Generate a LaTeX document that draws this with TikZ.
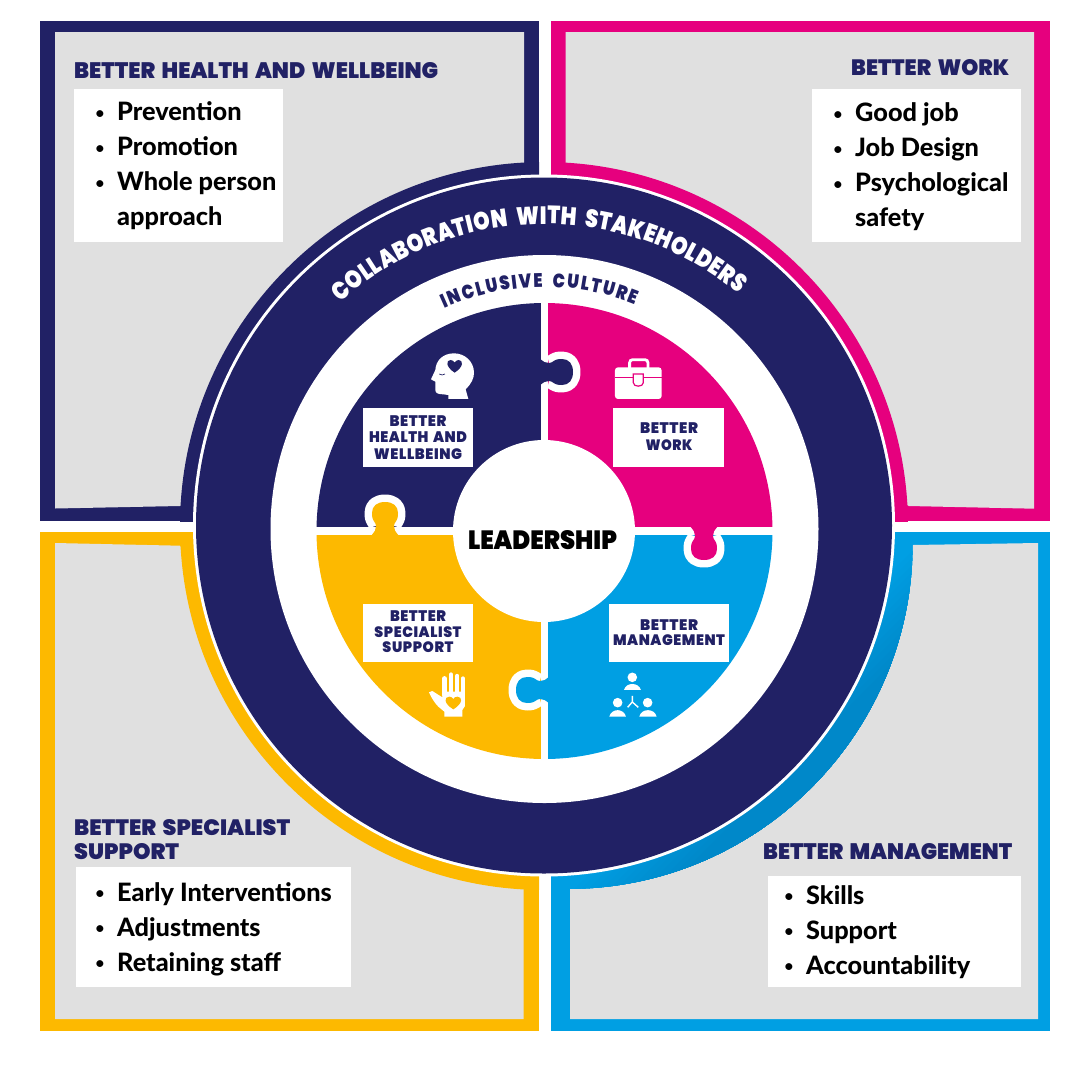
\documentclass[tikz,border=0pt]{standalone}
\usepackage{fontspec}
\usepackage{graphicx}
\usetikzlibrary{decorations.text}
\setmainfont{Lato}
\newfontfamily\hfont{Poppins Black}[WordSpace=1.7]
\newfontfamily\afont{Poppins Black}[FakeStretch=0.84,WordSpace=2.2]
\newfontfamily\lfont{Poppins Black}[LetterSpace=4,WordSpace=1.5]
\newfontfamily\bfont{Lato Heavy}
\definecolor{navy}{HTML}{212165}
\definecolor{pink}{HTML}{E6007E}
\definecolor{amber}{HTML}{FDB900}
\definecolor{sky}{HTML}{009FE3}
\definecolor{deepsky}{HTML}{0088C9}
\definecolor{panel}{HTML}{E0E0E0}
\newcommand\fitted[4]{\resizebox{#1pt}{#2pt}{#3#4}}
\newcommand\heading[6]{\node[headtext] (#1) at (#2,-#3) {\fitted{#4}{#5}{\hfont}{#6}};}
\newcommand\boxline[6]{\node[boxtext] (#1) at (#2,-#3) {\fitted{#4}{#5}{\lfont}{#6}};}
\newcommand\listitem[4]{%
  \node[bullettext] (#1b) at (#2-17,-#3+2.5) {•};
  \node[bodytext] (#1) at (#2,-#3) {#4};}
\newcommand\puzzletab[4]{%
  \begin{scope}[shift={(#1,-#2)},rotate=#3]
    \draw[white,line width=15pt,line join=round]
      (1,-9) .. controls (6,-9) and (4,-13) .. (14,-13)
      .. controls (21,-13) and (25,-8) .. (25,0)
      .. controls (25,8) and (21,13) .. (14,13)
      .. controls (4,13) and (6,9) .. (1,9);
    \fill[#4] (-9,-14) .. controls (-4,-10) and (-3,-9) .. (1,-9) .. controls (6,-9) and (4,-13) .. (14,-13)
      .. controls (21,-13) and (25,-8) .. (25,0)
      .. controls (25,8) and (21,13) .. (14,13)
      .. controls (4,13) and (6,9) .. (1,9) .. controls (-3,9) and (-4,10) .. (-9,14) -- cycle;
  \end{scope}}
\tikzset{
  headtext/.style={anchor=base west,inner sep=0pt,text=navy},
  boxtext/.style={anchor=base,inner sep=0pt,text=navy},
  bodytext/.style={anchor=base west,inner sep=0pt,text=black,font=\bfont\fontsize{25.3}{25.3}\selectfont},
  bullettext/.style={anchor=base,inner sep=0pt,text=black,font=\bfont\fontsize{15}{15}\selectfont},
  whitebox/.style={fill=white,draw=none},
  zoomed/.style={x=0.3333pt,y=-0.3333pt},
}
\begin{document}
\begin{tikzpicture}[x=1pt,y=1pt]
\useasboundingbox (0,0) rectangle (1080,-1080);
\fill[white] (0,0) rectangle (1080,-1080);

% --- outer frames
\fill[navy] (40,-21) rectangle (539,-521);
\fill[panel] (55,-32) -- (524,-32) -- (524,-300) -- (180,-506) -- (55,-508.5) -- cycle;
\begin{scope}
  \clip (40,-21) rectangle (539,-521);
  \fill[navy] (544,-526) circle[radius=364];
\end{scope}

\fill[pink] (551,-21) rectangle (1050,-521);
\fill[panel] (565.5,-32) -- (1034,-32) -- (1034,-508.7) -- (908.7,-506) -- (600,-300) -- (565.5,-300) -- cycle;
\begin{scope}
  \clip (551,-21) rectangle (1050,-521);
  \fill[pink] (544,-526) circle[radius=364];
\end{scope}

\fill[amber] (40,-532) rectangle (539,-1031);
\fill[panel] (55,-543) -- (180,-545.7) -- (320,-780) -- (523.5,-800) -- (523.5,-1019) -- (55,-1019) -- cycle;
\begin{scope}
  \clip (40,-532) rectangle (539,-1031);
  \fill[amber] (544,-526) circle[radius=364];
\end{scope}

\fill[sky] (551,-532) rectangle (1050,-1031);
\fill[panel] (912.7,-545) -- (1038,-543) -- (1038,-1019) -- (570,-1019) -- (570,-800) -- (800,-700) -- cycle;
\begin{scope}
  \clip (551,-532) rectangle (1050,-1031);
  \clip (566.7,-543) circle[radius=346];
  \fill[sky] (551,-532) rectangle (1050,-1031);
  \begin{scope}[shift={(566.7,-543)},rotate=-45]
    \foreach \step in {0,...,14}{
      \pgfmathsetmacro\tone{\step/14*100}
      \fill[deepsky!\tone!sky] (245+5*\step,-400) rectangle (400,400);
    }
  \end{scope}
\end{scope}

% --- rings
\fill[white] (544,-525.5) circle[radius=351];
\fill[navy] (544,-525.5) circle[radius=348];
\fill[white] (544.5,-529) circle[radius=274];

% --- quadrants
\fill[navy] (544.5,-531) -- (316.5,-531) arc[start angle=180,end angle=90,radius=228] -- cycle;
\fill[pink] (544.5,-531) -- (544.5,-303) arc[start angle=90,end angle=0,radius=228] -- cycle;
\fill[sky] (544.5,-531) -- (772.5,-531) arc[start angle=0,end angle=-90,radius=228] -- cycle;
\fill[amber] (544.5,-531) -- (544.5,-759) arc[start angle=-90,end angle=-180,radius=228] -- cycle;
\fill[white] (540.7,-296) rectangle (548,-766);
\fill[white] (310,-527) rectangle (780,-535);
\puzzletab{548}{372}{0}{navy}
\puzzletab{385}{527}{90}{amber}
\puzzletab{704}{535}{-90}{pink}
\puzzletab{541}{690}{180}{sky}
\fill[white] (544,-531) circle[radius=91];

% --- circular labels
\path[decorate,decoration={text along path,text align={fit to path},
  text={|\afont\fontsize{25}{25}\selectfont\color{white}|COLLABORATION WITH STAKEHOLDERS}}]
  (544.5,-529) ++(132:305) arc[start angle=132,end angle=50.5,radius=305];
\path[decorate,decoration={text along path,text align={fit to path},
  text={|\afont\fontsize{19.5}{19.5}\selectfont\color{navy}|INCLUSIVE CULTURE}}]
  (544.5,-529) ++(114.5:242) arc[start angle=114.5,end angle=68,radius=242];

% --- centre label
\node[anchor=base,inner sep=0pt,text=black] (leader) at (542.5,-549) {\fitted{149}{19}{\hfont}{LEADERSHIP}};

% --- inner boxes
\fill[whitebox] (363,-408) rectangle (473,-467);
\boxline{h1}{418}{426.7}{57}{10.8}{BETTER}
\boxline{h2}{418}{442.7}{98}{10.8}{HEALTH AND}
\boxline{h3}{418}{459}{88}{10.8}{WELLBEING}
\fill[whitebox] (613,-408) rectangle (724,-467);
\boxline{w1}{669}{433}{58}{10.8}{BETTER}
\boxline{w2}{669}{450}{47}{10.8}{WORK}
\fill[whitebox] (363,-604) rectangle (473,-662);
\boxline{s1}{418}{621.7}{56}{10.8}{BETTER}
\boxline{s2}{418}{637}{87}{10.8}{SPECIALIST}
\boxline{s3}{418}{652.7}{71}{10.8}{SUPPORT}
\fill[whitebox] (609,-604) rectangle (729,-662);
\boxline{m1}{669}{630}{58}{10.8}{BETTER}
\boxline{m2}{669}{645.7}{112}{10.8}{MANAGEMENT}

% --- head icon
\begin{scope}[shift={(300,-280)},zoomed]
  \fill[white] (445,357) -- (505,357) -- (497,328) .. controls (515,310) and (522,295) .. (522,278)
    .. controls (522,245) and (495,220) .. (462,220) .. controls (430,220) and (408,240) .. (406,270)
    -- (393,298) -- (406,305) -- (406,330) .. controls (406,340) and (415,343) .. (430,343) -- (445,345) -- cycle;
  \fill[navy] (464,278) .. controls (436,260) and (438,240) .. (452,240) .. controls (458,240) and (462,244) .. (464,248)
    .. controls (466,244) and (470,240) .. (476,240) .. controls (490,240) and (492,260) .. (464,278) -- cycle;
  \draw[navy,line width=0.7pt] (418,282) .. controls (423,286) and (430,286) .. (435,282);
% --- toolbox icon
  \draw[white,line width=2.8pt,rounded corners=3pt] (989,264) -- (989,239) -- (1044,239) -- (1044,264);
  \fill[white,rounded corners=3pt] (945,262) rectangle (1085,357);
  \fill[pink] (945,290) rectangle (1085,295);
  \draw[pink,line width=1.2pt,fill=white] (1000,282) -- (1030,282) -- (1030,308) .. controls (1030,322) and (1000,322) .. (1000,308) -- cycle;
\end{scope}

% --- hand icon
\begin{scope}[shift={(400,-660)},zoomed]
  \fill[white] (133,170) -- (187,170) -- (187,150) -- (195,138) -- (195,95) -- (127,95) -- (127,112) -- (97,93) -- (87,97)
    .. controls (95,115) and (105,130) .. (115,140) -- (133,155) -- cycle;
  \draw[white,line width=4.4pt,line cap=round] (133.5,55) -- (133.5,105);
  \draw[white,line width=4.6pt,line cap=round] (153,44) -- (153,105);
  \draw[white,line width=4.4pt,line cap=round] (171.5,48) -- (171.5,105);
  \draw[white,line width=4pt,line cap=round] (189,55) -- (189,105);
  \fill[amber] (160,148) .. controls (130,130) and (132,110) .. (148,110) .. controls (154,110) and (158,113) .. (160,117)
    .. controls (162,113) and (166,110) .. (172,110) .. controls (188,110) and (190,130) .. (160,148) -- cycle;
\end{scope}

% --- people icon
\begin{scope}[shift={(300,-500)},zoomed]
  \fill[white] (997,532) circle[radius=4.8pt];
  \fill[white] (972,570) .. controls (978,546) and (1016,546) .. (1023,570) -- cycle;
  \fill[white] (953,608) circle[radius=4.8pt];
  \fill[white] (928,650) .. controls (934,624) and (972,624) .. (978,650) -- cycle;
  \fill[white] (1043,608) circle[radius=4.8pt];
  \fill[white] (1018,650) .. controls (1024,624) and (1064,624) .. (1070,650) -- cycle;
  \draw[white,line width=1.4pt] (997,588) -- (997,606) -- (983,622);
  \draw[white,line width=1.4pt] (997,606) -- (1015,622);
\end{scope}

% --- top-left panel
\heading{tlh}{74}{78.3}{364}{16}{BETTER HEALTH AND WELLBEING}
\fill[whitebox] (74,-89) rectangle (283,-242);
\listitem{tl1}{117}{120.5}{Prevention}
\listitem{tl2}{117}{155.5}{Promotion}
\listitem{tl3}{117}{190.5}{Whole person}
\node[bodytext] (tl4) at (117,-225.5) {approach};

% --- top-right panel
\heading{trh}{851}{75}{158}{16}{BETTER WORK}
\fill[whitebox] (812,-89) rectangle (1021,-242);
\listitem{tr1}{855}{121.5}{Good job}
\listitem{tr2}{855}{156.5}{Job Design}
\listitem{tr3}{855}{191.5}{Psychological}
\node[bodytext] (tr4) at (855,-226.5) {safety};

% --- bottom-left panel
\heading{blh1}{74}{835}{216}{16}{BETTER SPECIALIST}
\heading{blh2}{74}{859}{105}{16}{SUPPORT}
\fill[whitebox] (76,-867) rectangle (351,-987);
\listitem{bl1}{117}{901}{Early Interventions}
\listitem{bl2}{117}{936}{Adjustments}
\listitem{bl3}{117}{971}{Retaining staff}

% --- bottom-right panel
\heading{brh}{763}{859}{249}{16}{BETTER MANAGEMENT}
\fill[whitebox] (768,-876) rectangle (1021,-987);
\listitem{br1}{806}{904}{Skills}
\listitem{br2}{806}{939}{Support}
\listitem{br3}{806}{974}{Accountability}
\end{tikzpicture}
\end{document}
